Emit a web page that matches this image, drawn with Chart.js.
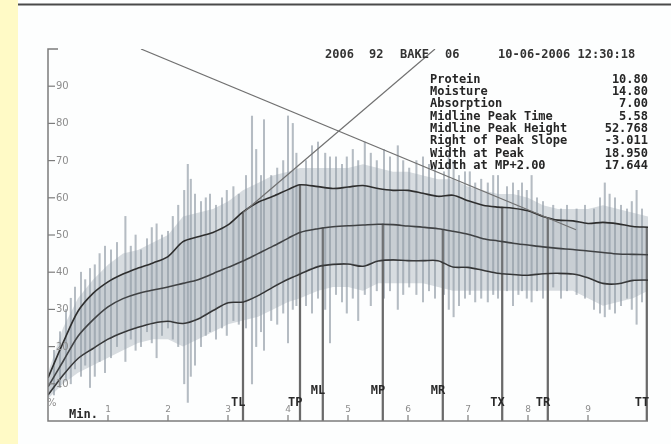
<!DOCTYPE html>
<html>
<head>
<meta charset="utf-8">
<script src="https://cdn.jsdelivr.net/npm/chart.js@4.4.1/dist/chart.umd.min.js"></script>
<style>
  body { margin: 0; background: #ffffff; }
  #wrap { width: 671px; height: 444px; }
</style>
</head>
<body>
<div id="wrap"><canvas id="mixoChart" width="671" height="444"></canvas></div>
<script>
// minutes along the run and the three envelope curves (% torque)
const minutes  = [0, 0.25, 0.5, 0.75, 1, 1.25, 1.5, 1.75, 2, 2.25, 2.5, 2.75, 3, 3.25, 3.5, 3.75, 4, 4.2, 4.5, 4.75, 5, 5.25, 5.5, 5.75, 6, 6.25, 6.5, 6.75, 7, 7.25, 7.5, 7.75, 8, 8.25, 8.5, 8.75, 9, 9.25, 9.5, 9.75, 10];
const topLine  = [11.6, 21, 29.5, 34.3, 37.4, 39.5, 41.1, 42.5, 44.2, 48.2, 49.5, 50.7, 52.7, 56.2, 58.8, 60.4, 62.2, 63.5, 63, 62.5, 62.9, 63.3, 62.5, 62, 62, 61.2, 60.4, 60.7, 59.2, 58, 57.5, 57.2, 56.5, 55, 54, 53.8, 53.1, 53.4, 53, 52.3, 52.1];
const midLine  = [9.2, 16, 22.8, 27.2, 30.7, 32.9, 34.3, 35.2, 36, 37, 38, 39.6, 41.3, 43, 45, 47, 49.1, 50.7, 51.7, 52.2, 52.5, 52.7, 52.9, 52.8, 52.4, 52.1, 51.7, 51, 50.2, 49, 48.4, 47.8, 47.3, 46.8, 46.4, 46.1, 45.7, 45.3, 44.9, 44.8, 44.7];
const lowLine  = [7, 12.3, 16.8, 19.5, 22, 23.8, 25.2, 26.3, 26.8, 26.2, 27.4, 29.7, 31.8, 32, 33.7, 36, 38.1, 39.5, 41.5, 42.1, 42.2, 41.6, 43, 43.3, 43.1, 43.1, 43.1, 41.4, 41.3, 40.5, 39.7, 39.4, 39.2, 39.6, 39.7, 39.5, 38.5, 37, 36.9, 37.8, 37.9];

// dense part of the raw trace
const traceHigh = [13, 25, 33, 38, 42, 45, 46, 48, 50, 55, 56, 57, 59, 62, 64, 66, 67, 68, 68, 68, 68, 69, 68, 67, 67, 66, 65, 65, 63, 62, 61, 61, 60, 58, 57, 57, 57, 58, 57, 56, 55];
const traceLow  = [6, 10, 13, 15, 17, 19, 21, 22, 22, 20, 22, 24, 26, 27, 28, 30, 32, 33, 35, 36, 36, 35, 37, 37, 37, 37, 36, 35, 35, 35, 35, 35, 35, 35, 35, 35, 33, 31, 32, 33, 35];

// single strokes of the raw trace that stick out
const spikeMin  = [0.1, 0.2, 0.3, 0.38, 0.45, 0.55, 0.62, 0.7, 0.78, 0.86, 0.95, 1.05, 1.15, 1.29, 1.38, 1.46, 1.55, 1.65, 1.73, 1.81, 1.9, 2.0, 2.08, 2.17, 2.27, 2.33, 2.38, 2.45, 2.55, 2.63, 2.7, 2.8, 2.9, 2.98, 3.09, 3.18, 3.3, 3.4, 3.47, 3.55, 3.6, 3.72, 3.82, 3.92, 4.0, 4.08, 4.14, 4.3, 4.4, 4.5, 4.62, 4.7, 4.8, 4.9, 4.98, 5.08, 5.17, 5.28, 5.38, 5.48, 5.6, 5.7, 5.83, 5.92, 6.02, 6.14, 6.25, 6.35, 6.45, 6.6, 6.68, 6.76, 6.85, 6.95, 7.03, 7.12, 7.22, 7.33, 7.42, 7.5, 7.65, 7.75, 7.84, 7.9, 7.98, 8.06, 8.15, 8.25, 8.42, 8.55, 8.65, 8.81, 8.95, 9.1, 9.2, 9.28, 9.36, 9.45, 9.55, 9.65, 9.73, 9.81, 9.9];
const spikeLow  = [7, 9, 11, 10, 14, 12, 15, 9, 12, 16, 13, 17, 20, 16, 22, 19, 20, 24, 21, 17, 23, 25, 22, 20, 10, 5, 12, 15, 20, 23, 24, 22, 25, 23, 27, 26, 25, 10, 20, 24, 19, 27, 26, 29, 21, 30, 31, 31, 29, 33, 30, 21, 34, 32, 29, 33, 27, 34, 31, 35, 33, 35, 30, 34, 36, 34, 32, 35, 33, 34, 30, 28, 31, 33, 34, 32, 33, 32, 34, 33, 35, 31, 34, 35, 33, 32, 35, 33, 36, 33, 35, 34, 33, 30, 29, 28, 30, 29, 31, 33, 30, 26, 32];
const spikeHigh = [19, 24, 30, 33, 36, 40, 38, 41, 42, 45, 47, 46, 48, 55, 47, 50, 46, 49, 52, 53, 50, 51, 55, 58, 62, 69, 65, 61, 59, 60, 61, 58, 60, 62, 63, 61, 66, 82, 73, 66, 81, 66, 68, 70, 82, 80, 72, 70, 74, 75, 72, 71, 71, 69, 71, 73, 70, 75, 72, 70, 73, 71, 74, 70, 68, 70, 71, 69, 68, 67, 72, 70, 66, 67, 67, 64, 65, 64, 66, 66, 63, 64, 62, 64, 62, 66, 60, 59, 58, 57, 58, 57, 58, 57, 60, 64, 61, 60, 58, 57, 59, 62, 57];

// event markers
const markerNames = ['TL', 'TP', 'ML', 'MP', 'MR', 'TX', 'TR', 'TT'];
const markerMin   = [3.25, 4.2, 4.58, 5.58, 6.58, 7.57, 8.33, 9.98];
const markerTop   = [56, 63.5, 52, 53, 51.5, 57.5, 54.5, 52.1];
const markerRaised = [false, false, true, true, true, false, false, false];

// slope lines
const riseMin = [3.25, 6.45];
const riseVal = [56, 100];
const fallMin = [1.55, 8.8];
const fallVal = [100, 51.4];

const yTicks = [10, 20, 30, 40, 50, 60, 70, 80, 90];
const minuteTicks = [1, 2, 3, 4, 5, 6, 7, 8, 9];

const headerParts = ['2006', '92', 'BAKE', '06', '10-06-2006 12:30:18'];
const statLabels = ['Protein', 'Moisture', 'Absorption', 'Midline Peak Time', 'Midline Peak Height', 'Right of Peak Slope', 'Width at Peak', 'Width at MP+2.00'];
const statValues = ['10.80', '14.80', '7.00', '5.58', '52.768', '-3.011', '18.950', '17.644'];

const pts = (xs, ys) => xs.map((x, i) => ({ x: x, y: ys[i] }));

const mono = "'DejaVu Sans Mono', 'Liberation Mono', monospace";

const paperPlugin = {
    id: 'paper',
    beforeDraw(chart) {
        const ctx = chart.ctx;
        ctx.save();
        ctx.fillStyle = '#fdfefe';
        ctx.fillRect(0, 0, chart.width, chart.height);
        ctx.fillStyle = '#fffac6';
        ctx.fillRect(0, 0, 18, chart.height);
        ctx.strokeStyle = '#4a4a4a';
        ctx.lineWidth = 2;
        ctx.beginPath();
        ctx.moveTo(18, 4.5);
        ctx.lineTo(chart.width, 4.5);
        ctx.stroke();
        ctx.restore();
    },
    afterDraw(chart) {
        const ctx = chart.ctx;
        const xs = chart.scales.x;
        const ys = chart.scales.y;
        const x0 = xs.getPixelForValue(0);
        const x1 = xs.getPixelForValue(10);
        const y0 = ys.getPixelForValue(0);
        const yTop = ys.getPixelForValue(100);
        ctx.save();

        // axes
        ctx.strokeStyle = '#7c7c7c';
        ctx.lineWidth = 1.5;
        ctx.beginPath();
        ctx.moveTo(x0 + 10, yTop);
        ctx.lineTo(x0, yTop);
        ctx.lineTo(x0, y0);
        ctx.lineTo(x1, y0);
        ctx.stroke();

        // y ticks
        ctx.font = '10px "DejaVu Sans"';
        ctx.fillStyle = '#8c8c8c';
        ctx.textBaseline = 'middle';
        ctx.textAlign = 'left';
        ctx.lineWidth = 1.2;
        yTicks.forEach(v => {
            const py = ys.getPixelForValue(v);
            ctx.beginPath();
            ctx.moveTo(x0, py);
            ctx.lineTo(x0 + 7, py);
            ctx.stroke();
            ctx.fillText(String(v), x0 + 8, py + 0.5);
        });
        ctx.fillText('%', x0 - 1, 403);

        // minute ticks
        ctx.font = '9px "DejaVu Sans"';
        ctx.textAlign = 'center';
        minuteTicks.forEach(m => {
            const px = xs.getPixelForValue(m);
            ctx.beginPath();
            ctx.moveTo(px, y0 - 6);
            ctx.lineTo(px, y0);
            ctx.stroke();
            ctx.fillText(String(m), px, y0 - 11);
        });

        ctx.fillStyle = '#2a2a2a';
        ctx.font = 'bold 12px ' + mono;
        ctx.textAlign = 'left';
        ctx.fillText('Min.', 69, y0 - 6);

        // marker labels
        ctx.textAlign = 'right';
        markerNames.forEach((name, i) => {
            const px = xs.getPixelForValue(markerMin[i]);
            ctx.fillText(name, px + 2.5, markerRaised[i] ? 391 : 403);
        });

        // header and stats block
        ctx.textAlign = 'left';
        ctx.fillStyle = '#333333';
        const headerX = [325, 369, 400, 445, 498];
        headerParts.forEach((t, i) => ctx.fillText(t, headerX[i], 55));
        ctx.fillStyle = '#262626';
        statLabels.forEach((t, i) => {
            const py = 79.5 + i * 12.35;
            ctx.textAlign = 'left';
            ctx.fillText(t, 430, py);
            ctx.textAlign = 'right';
            ctx.fillText(statValues[i], 648, py);
        });
        ctx.restore();
    }
};

const ctx = document.getElementById('mixoChart').getContext('2d');
const mixoChart = new Chart(ctx, {
    type: 'line',
    data: {
        datasets: [{
            data: pts(minutes, traceHigh),
            borderWidth: 0,
            pointRadius: 0,
            backgroundColor: 'rgba(178, 186, 194, 0.5)',
            fill: 1,
            order: 10
        }, {
            data: pts(minutes, traceLow),
            borderWidth: 0,
            pointRadius: 0,
            fill: false,
            order: 10
        }, {
            type: 'bar',
            data: spikeMin.map((m, i) => ({ x: m, y: [spikeLow[i], spikeHigh[i]] })),
            backgroundColor: 'rgba(150, 160, 170, 0.7)',
            barThickness: 1.4,
            grouped: false,
            order: 9
        }, {
            data: pts(minutes, topLine),
            borderColor: '#2e2e2e',
            borderWidth: 1.6,
            pointRadius: 0,
            tension: 0.3,
            backgroundColor: 'rgba(140, 150, 160, 0.2)',
            fill: 5,
            order: 2
        }, {
            data: pts(minutes, midLine),
            borderColor: '#2e2e2e',
            borderWidth: 1.6,
            pointRadius: 0,
            tension: 0.3,
            fill: false,
            order: 2
        }, {
            data: pts(minutes, lowLine),
            borderColor: '#2e2e2e',
            borderWidth: 1.6,
            pointRadius: 0,
            tension: 0.3,
            fill: false,
            order: 2
        }, {
            type: 'bar',
            data: markerMin.map((m, i) => ({ x: m, y: [0, markerTop[i]] })),
            backgroundColor: '#6a6a6a',
            barThickness: 1.6,
            grouped: false,
            order: 3
        }, {
            data: pts(riseMin, riseVal),
            borderColor: '#707070',
            borderWidth: 1.2,
            pointRadius: 0,
            fill: false,
            order: 0
        }, {
            data: pts(fallMin, fallVal),
            borderColor: '#707070',
            borderWidth: 1.2,
            pointRadius: 0,
            fill: false,
            order: 0
        }]
    },
    options: {
        responsive: false,
        animation: false,
        events: [],
        layout: {
            padding: { left: 48, right: 23, top: 49, bottom: 23 }
        },
        plugins: {
            legend: { display: false },
            tooltip: { enabled: false }
        },
        scales: {
            x: { type: 'linear', min: 0, max: 10, offset: false, display: false },
            y: { type: 'linear', min: 0, max: 100, display: false }
        }
    },
    plugins: [paperPlugin]
});
</script>
</body>
</html>
